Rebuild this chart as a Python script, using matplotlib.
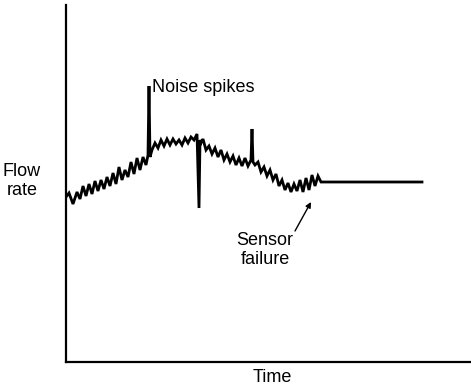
import matplotlib
matplotlib.use("Agg")
import matplotlib.pyplot as plt

# Time (arbitrary units) and flow rate (arbitrary units)
time = [0, 3, 7, 11, 14, 17, 20, 23, 26, 29, 32, 35, 38, 41, 44, 47, 50, 53, 56, 59,
        62, 65, 68, 71, 74, 77, 80, 82, 83, 84, 86, 89, 92, 95, 98, 101, 104, 107,
        110, 113, 116, 119, 122, 125, 128, 131, 133, 134, 135, 137, 140, 143, 146,
        149, 152, 155, 158, 161, 164, 167, 170, 173, 176, 179, 182, 185, 186, 187,
        189, 192, 195, 198, 201, 204, 207, 210, 213, 216, 219, 222, 225, 228, 231,
        234, 237, 240, 243, 246, 249, 252, 255, 356]
flow = [165, 169, 158, 170, 163, 176, 166, 178, 168, 181, 171, 182, 173, 185, 176,
        189, 178, 195, 182, 192, 185, 200, 188, 204, 192, 205, 197, 207, 276, 205,
        212, 219, 214, 222, 216, 223, 217, 223, 218, 222, 217, 224, 219, 225, 222,
        228, 154, 222, 219, 223, 212, 216, 208, 214, 205, 212, 202, 208, 200, 206,
        197, 204, 196, 204, 196, 202, 233, 200, 197, 200, 190, 195, 186, 192, 182,
        188, 176, 182, 172, 179, 170, 178, 171, 182, 170, 184, 172, 187, 176, 186,
        180, 180]

ylabel = "Flow\nrate"
xlabel = "Time"
spike_label = "Noise spikes"
failure_label = "Sensor\nfailure"

plt.rcParams['font.family'] = ['Liberation Sans', 'DejaVu Sans']

fig = plt.figure(figsize=(4.71, 3.87), dpi=100)
ax = fig.add_axes([66 / 471, 25 / 387, 404 / 471, 357 / 387])
ax.plot(time, flow, color='black', lw=2.0, solid_joinstyle='miter')
ax.set_xlim(0, 404)
ax.set_ylim(0, 357)
for s in ['top', 'right']:
    ax.spines[s].set_visible(False)
for s in ['left', 'bottom']:
    ax.spines[s].set_linewidth(1.6)
ax.set_xticks([])
ax.set_yticks([])

fs = 13
ax.text(86, 274, spike_label, fontsize=fs, ha='left', va='center')
ax.text(-44, 181, ylabel, fontsize=fs, ha='center', va='center', clip_on=False)
ax.text(206, -15, xlabel, fontsize=fs, ha='center', va='center', clip_on=False)
ax.text(199, 112, failure_label, fontsize=fs, ha='center', va='center')
ax.annotate('', xy=(245, 160), xytext=(229, 131),
            arrowprops=dict(arrowstyle='-|>', color='black', lw=1.0,
                            mutation_scale=8, shrinkA=0, shrinkB=0))

fig.savefig('out.png', dpi=100)
